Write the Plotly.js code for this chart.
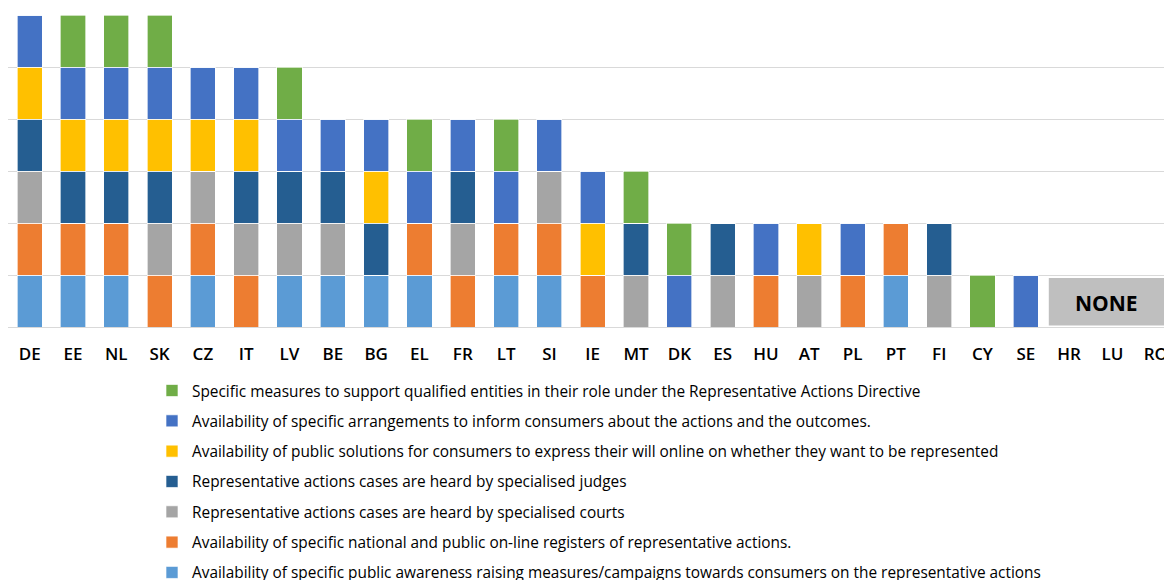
<!DOCTYPE html>
<html>
<head>
<meta charset="utf-8">
<script src="https://cdn.plot.ly/plotly-3.0.1.min.js"></script>
<style>html,body{margin:0;padding:0;background:#fff;}#chart{width:1164px;height:580px;}</style>
</head>
<body>
<div id="chart"></div>
<script>
const countries = ["DE","EE","NL","SK","CZ","IT","LV","BE","BG","EL","FR","LT","SI","IE","MT","DK","ES","HU","AT","PL","PT","FI","CY","SE","HR","LU","RO"];

const seriesNames = [
  "Availability of specific public awareness raising measures/campaigns towards consumers on the representative actions",
  "Availability of specific national and public on-line registers of representative actions.",
  "Representative actions cases are heard by specialised courts",
  "Representative actions cases are heard by specialised judges",
  "Availability of public solutions for consumers to express their will online on whether they want to be represented",
  "Availability of specific arrangements to inform consumers about the actions and the outcomes.",
  "Specific measures to support qualified entities in their role under the Representative Actions Directive"
];
const seriesColors = ["#5B9BD5","#ED7D31","#A5A5A5","#255E91","#FFC000","#4472C4","#70AD47"];

//                     DE EE NL SK CZ IT LV BE BG EL FR LT SI IE MT DK ES HU AT PL PT FI CY SE HR LU RO
const awareness    = [ 1, 1, 1, 0, 1, 0, 1, 1, 1, 1, 0, 1, 1, 0, 0, 0, 0, 0, 0, 0, 1, 0, 0, 0, 0, 0, 0];
const registers    = [ 1, 1, 1, 1, 1, 1, 0, 0, 0, 1, 1, 1, 1, 1, 0, 0, 0, 1, 0, 1, 1, 0, 0, 0, 0, 0, 0];
const courts       = [ 1, 0, 0, 1, 1, 1, 1, 1, 0, 0, 1, 0, 1, 0, 1, 0, 1, 0, 1, 0, 0, 1, 0, 0, 0, 0, 0];
const judges       = [ 1, 1, 1, 1, 0, 1, 1, 1, 1, 0, 1, 0, 0, 0, 1, 0, 1, 0, 0, 0, 0, 1, 0, 0, 0, 0, 0];
const onlineWill   = [ 1, 1, 1, 1, 1, 1, 0, 0, 1, 0, 0, 0, 0, 1, 0, 0, 0, 0, 1, 0, 0, 0, 0, 0, 0, 0, 0];
const informArr    = [ 1, 1, 1, 1, 1, 1, 1, 1, 1, 1, 1, 1, 1, 1, 0, 1, 0, 1, 0, 1, 0, 0, 0, 1, 0, 0, 0];
const supportQE    = [ 0, 1, 1, 1, 0, 0, 1, 0, 0, 1, 0, 1, 0, 0, 1, 1, 0, 0, 0, 0, 0, 0, 1, 0, 0, 0, 0];

const seriesValues = [awareness, registers, courts, judges, onlineWill, informArr, supportQE];
const noneLabel = "NONE";

const FONT = "Open Sans, Noto Sans, sans-serif";

const traces = seriesValues.map((vals, i) => ({
  type: "bar",
  name: seriesNames[i],
  x: countries,
  y: vals,
  legendgroup: "g" + i,
  legendrank: 100 - i,
  marker: { color: seriesColors[i], line: { color: "rgba(255,255,255,0.8)", width: 0.8 } },
  hoverinfo: "x+name"
}));

const layout = {
  width: 1164,
  height: 580,
  margin: { l: 8, r: 0, t: 15, b: 253, autoexpand: false },
  paper_bgcolor: "#ffffff",
  plot_bgcolor: "#ffffff",
  barmode: "stack",
  bargap: 0.42,
  showlegend: true,
  font: { family: FONT, color: "#000000" },
  xaxis: {
    type: "category",
    range: [-0.5, 26.19],
    showgrid: false,
    zeroline: false,
    showline: false,
    ticks: "",
    tickangle: 0,
    tickfont: { family: FONT, size: 17, color: "#000000", weight: 600 },
    ticklabelstandoff: 15,
    fixedrange: true
  },
  yaxis: {
    range: [0, 6],
    dtick: 1,
    showgrid: true,
    gridcolor: "#D9D9D9",
    gridwidth: 1,
    zeroline: true,
    zerolinecolor: "#D9D9D9",
    zerolinewidth: 1,
    showticklabels: false,
    ticks: "",
    fixedrange: true
  },
  legend: {
    traceorder: "grouped",
    tracegroupgap: 7.3,
    xref: "container",
    yref: "container",
    x: 152 / 1164,
    y: 1 - 374 / 580,
    xanchor: "left",
    yanchor: "top",
    font: { family: FONT, size: 15.4, color: "#000000" },
    bgcolor: "rgba(0,0,0,0)",
    itemclick: false,
    itemdoubleclick: false
  },
  shapes: [{
    type: "rect",
    xref: "x", yref: "y",
    x0: 23.53, x1: 26.6, y0: 0.03, y1: 0.94,
    fillcolor: "#BFBFBF",
    line: { width: 0 },
    layer: "above"
  }],
  annotations: [{
    xref: "x", yref: "y",
    x: 24.87, y: 0.47,
    text: "<b>" + noneLabel + "</b>",
    showarrow: false,
    font: { family: FONT, size: 21, color: "#000000" }
  }]
};

Plotly.newPlot("chart", traces, layout, { displayModeBar: false, staticPlot: true });
</script>
</body>
</html>
